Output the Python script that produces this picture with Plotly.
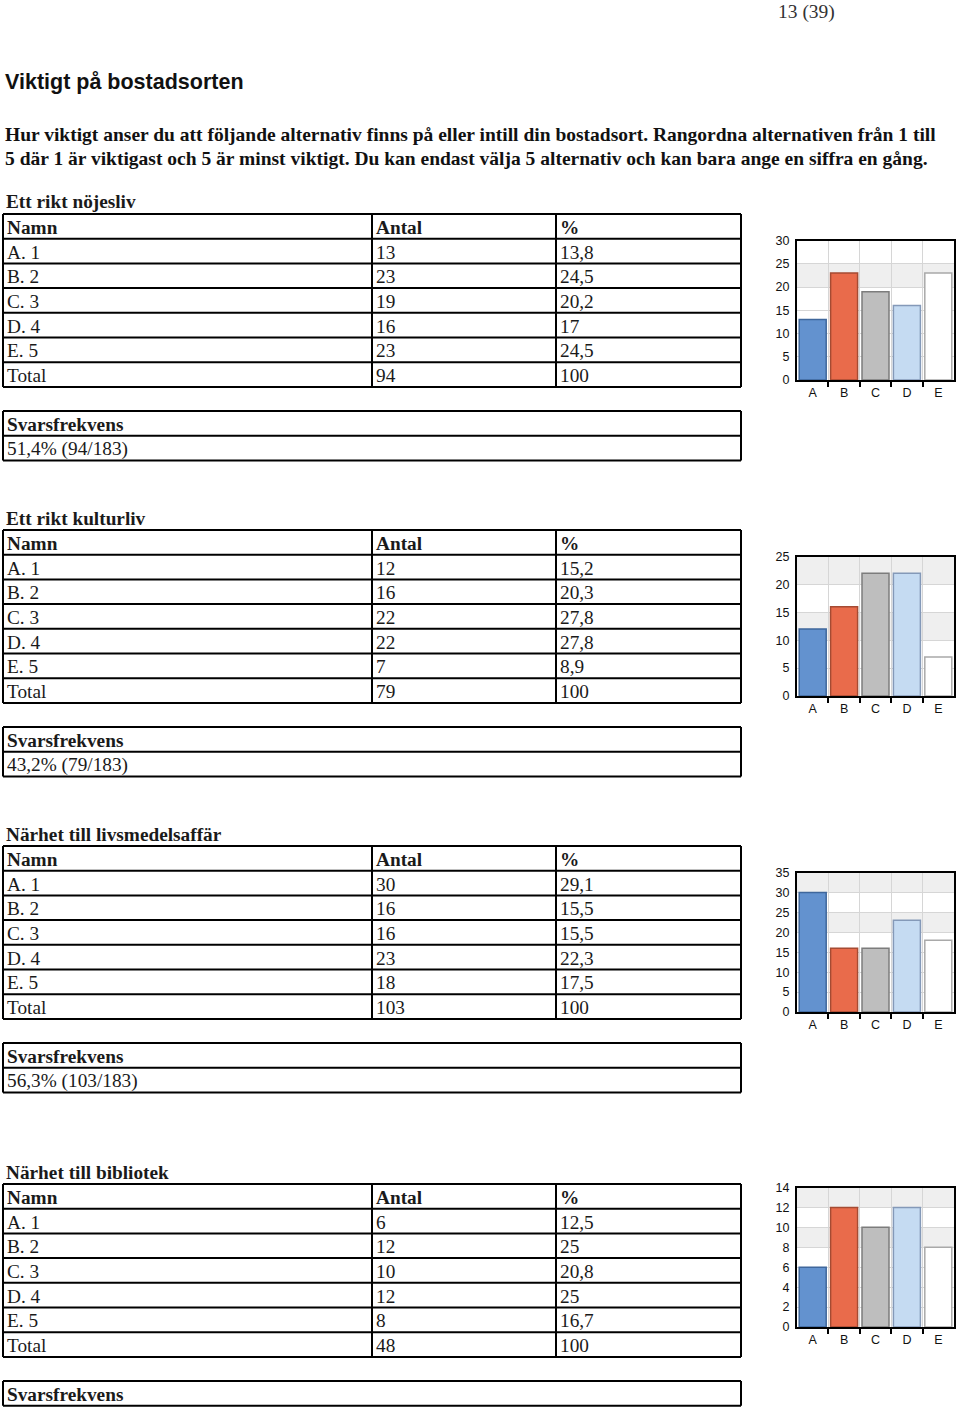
import plotly.graph_objects as go

# ---------------- data ----------------
page_number = "13 (39)"
heading = "Viktigt på bostadsorten"
question_lines = [
    "Hur viktigt anser du att följande alternativ finns på eller intill din bostadsort. Rangordna alternativen från 1 till",
    "5 där 1 är viktigast och 5 är minst viktigt. Du kan endast välja 5 alternativ och kan bara ange en siffra en gång.",
]
column_headers = ["Namn", "Antal", "%"]
row_names = ["A. 1", "B. 2", "C. 3", "D. 4", "E. 5", "Total"]
bar_labels = ["A", "B", "C", "D", "E"]
svars_header = "Svarsfrekvens"

titles = ["Ett rikt nöjesliv", "Ett rikt kulturliv",
          "Närhet till livsmedelsaffär", "Närhet till bibliotek"]

counts_nojesliv = [13, 23, 19, 16, 23]
counts_kulturliv = [12, 16, 22, 22, 7]
counts_livsmedel = [30, 16, 16, 23, 18]
counts_bibliotek = [6, 12, 10, 12, 8]

pct_nojesliv = ["13,8", "24,5", "20,2", "17", "24,5"]
pct_kulturliv = ["15,2", "20,3", "27,8", "27,8", "8,9"]
pct_livsmedel = ["29,1", "15,5", "15,5", "22,3", "17,5"]
pct_bibliotek = ["12,5", "25", "20,8", "25", "16,7"]

totals = [94, 79, 103, 48]
total_pct = "100"
svarsfrekvens = ["51,4% (94/183)", "43,2% (79/183)", "56,3% (103/183)", None]

y_max = [30, 25, 35, 14]
y_step = [5, 5, 5, 2]

counts = [counts_nojesliv, counts_kulturliv, counts_livsmedel, counts_bibliotek]
pcts = [pct_nojesliv, pct_kulturliv, pct_livsmedel, pct_bibliotek]

# ---------------- layout / style ----------------
W, H = 960, 1410
SERIF = "Liberation Serif"
SANS = "Liberation Sans"

table_tops = [214, 530, 846, 1184]
col_edges = [3, 372, 556, 741]
row_h = 24.7
svars_offset = 197
title_offset = 12
TABLE_FONT = 19.3

chart_x = [797, 954]
chart_bottoms = [380, 696, 1012, 1327]
chart_h = 139.5

bar_fill = ["#6392cf", "#e96b4b", "#bebebe", "#c5dbf2", "#ffffff"]
bar_edge = ["#3f679c", "#a54b33", "#7c7c7c", "#8499b8", "#a9a9a9"]
grid_col = "#d6d6d6"
band_col = "#efefef"


def px(x):
    return x / W


def py(y):
    return 1 - y / H


fig = go.Figure()
shapes = []
annotations = []

LINE = dict(color="black", width=2)


def text(x, y, s, size=TABLE_FONT, bold=False, family=SERIF, anchor="left", color="#1a1a1a"):
    annotations.append(dict(
        x=px(x), y=py(y), xref="paper", yref="paper", text=s, showarrow=False,
        xanchor=anchor, yanchor="middle",
        font=dict(family=family, size=size, color=color, weight="bold" if bold else "normal"),
    ))


def hline(x0, x1, y):
    shapes.append(dict(type="line", xref="paper", yref="paper", x0=px(x0), x1=px(x1),
                       y0=py(y), y1=py(y), line=LINE))


def vline(x, y0, y1):
    shapes.append(dict(type="line", xref="paper", yref="paper", x0=px(x), x1=px(x),
                       y0=py(y0), y1=py(y1), line=LINE))


def draw_table(top, edges, rows, header):
    allrows = [header] + rows
    n = len(allrows)
    for r in range(n + 1):
        hline(edges[0], edges[-1], top + r * row_h)
    for e in edges:
        vline(e, top, top + n * row_h)
    for r, row in enumerate(allrows):
        for c, cell in enumerate(row):
            text(edges[c] + 2, top + r * row_h + row_h / 2 + 1, str(cell), bold=(r == 0))


# page texts
text(806, 11.5, page_number, size=19.5, anchor="center", color="#333333")
text(3, 82, heading, size=21.5, bold=True, family=SANS, color="#111111")
for i, line in enumerate(question_lines):
    text(3, 134 + 24 * i, line, size=19.5, bold=True, color="#111111")

for i in range(4):
    top = table_tops[i]
    text(4, top - title_offset, titles[i], bold=True)
    body = [[row_names[k], counts[i][k], pcts[i][k]] for k in range(5)]
    body.append([row_names[5], totals[i], total_pct])
    draw_table(top, col_edges, body, column_headers)
    s_rows = [[svarsfrekvens[i]]] if svarsfrekvens[i] else []
    draw_table(top + svars_offset, [col_edges[0], col_edges[-1]], s_rows, [svars_header])

# charts
for i in range(4):
    k = "" if i == 0 else str(i + 1)
    xa, ya = "x" + k, "y" + k
    fig.add_trace(go.Bar(
        x=list(range(len(bar_labels))), y=counts[i],
        marker=dict(color=bar_fill, line=dict(color=bar_edge, width=1.5)),
        xaxis=xa, yaxis=ya, showlegend=False, hoverinfo="skip",
    ))
    axis_common = dict(showline=True, mirror=True, linecolor="black", linewidth=2,
                       zeroline=False, tickfont=dict(family=SANS, size=12.5, color="#111111"),
                       fixedrange=True, automargin=False)
    fig.layout["xaxis" + k] = dict(
        domain=[px(chart_x[0]), px(chart_x[1])], anchor=ya,
        range=[-0.5, len(bar_labels) - 0.5],
        tickmode="array", tickvals=list(range(len(bar_labels))), ticktext=bar_labels,
        ticks="", showgrid=False,
        minor=dict(tickmode="array", tickvals=[j + 0.5 for j in range(len(bar_labels) - 1)],
                   ticks="outside", ticklen=5, tickwidth=1.5, tickcolor="black",
                   showgrid=True, gridcolor=grid_col, gridwidth=1),
        **axis_common)
    fig.layout["yaxis" + k] = dict(
        domain=[py(chart_bottoms[i]), py(chart_bottoms[i] - chart_h)], anchor=xa,
        range=[0, y_max[i]], tick0=0, dtick=y_step[i], ticks="",
        showgrid=True, gridcolor=grid_col, gridwidth=1, ticklabelstandoff=3,
        **axis_common)
    nb = y_max[i] // y_step[i]
    for b in range(nb):
        if b % 2 == 0 and (b + 1) / nb > 0.55:
            shapes.append(dict(type="rect", xref=xa + " domain", yref=ya,
                               x0=0, x1=1, y0=b * y_step[i], y1=(b + 1) * y_step[i],
                               fillcolor=band_col, line=dict(width=0), layer="below"))

fig.update_layout(
    width=W, height=H, margin=dict(l=0, r=0, t=0, b=0, pad=0, autoexpand=False),
    paper_bgcolor="white", plot_bgcolor="white",
    bargap=0.14, shapes=shapes, annotations=annotations,
)

fig.write_html(
    "out.html",
    config={"displayModeBar": False},
    post_script="document.body.style.margin='0';document.body.style.overflow='hidden';",
)
